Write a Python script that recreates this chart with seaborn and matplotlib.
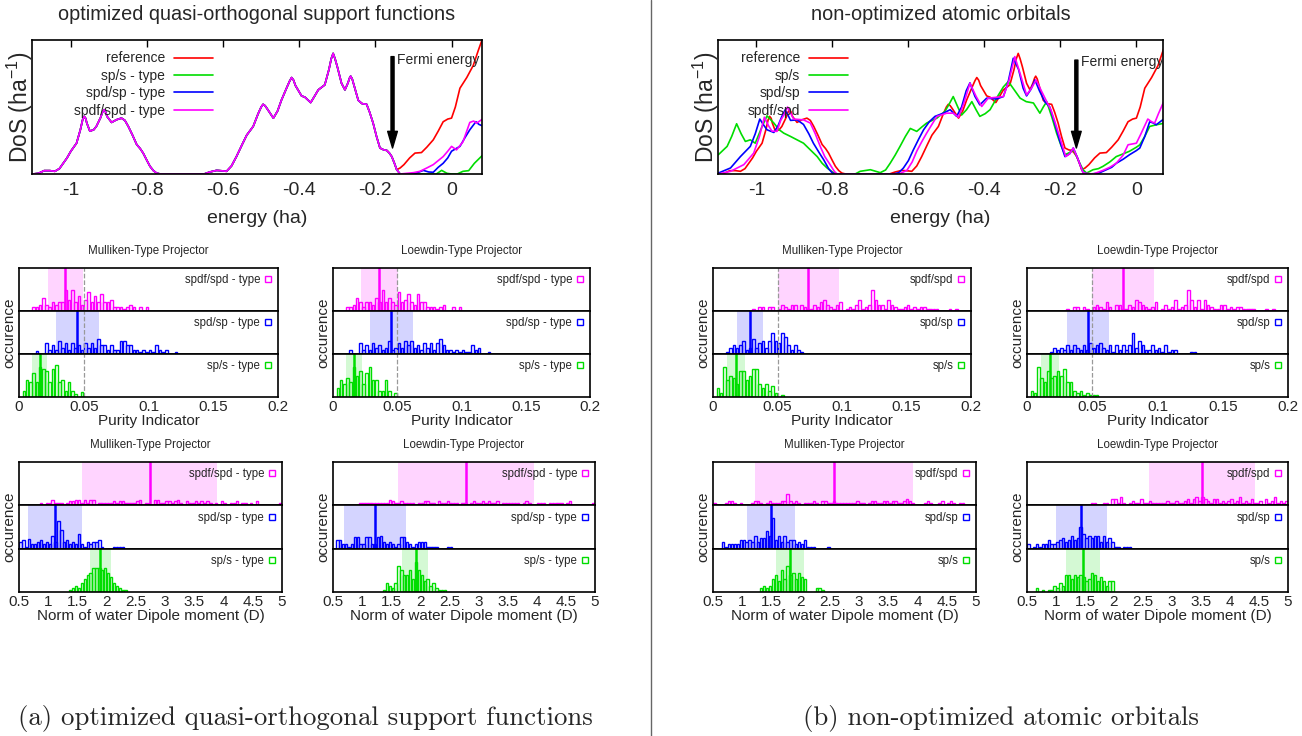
import numpy as np
import pandas as pd
import matplotlib
matplotlib.use('Agg')
import matplotlib.pyplot as plt
from matplotlib.lines import Line2D
import seaborn as sns

sns.set_style('white')
plt.rcParams['font.family'] = ['Liberation Sans', 'DejaVu Sans']
plt.rcParams['axes.unicode_minus'] = False
plt.rcParams['mathtext.default'] = 'regular'

W, H = 1302, 736

# ---- density of states (energy in ha, DoS in arbitrary units) ----
dos_body = [(-1.10, 0.0), (-1.085, 0.5), (-1.07, 2.5), (-1.055, 2.5), (-1.042, 2.0), (-1.03, 4.0),
            (-1.02, 8.0), (-1.01, 12.0), (-1.0, 17.0), (-0.985, 23.0), (-0.975, 33.0), (-0.969, 40.5),
            (-0.965, 43.0), (-0.961, 41.5), (-0.958, 38.0), (-0.95, 32.0), (-0.94, 33.0), (-0.933, 35.5),
            (-0.922, 42.0), (-0.917, 46.0), (-0.913, 48.0), (-0.909, 46.5), (-0.905, 43.0), (-0.893, 38.5),
            (-0.88, 40.5), (-0.867, 41.7), (-0.858, 40.0), (-0.849, 35.5),
            (-0.838, 29.0), (-0.827, 22.0), (-0.818, 19.0), (-0.81, 15.6), (-0.8, 10.0), (-0.792, 5.7),
            (-0.783, 2.5), (-0.775, 0.7), (-0.765, 0.0), (-0.65, 0.0), (-0.635, 1.5), (-0.617, 2.7),
            (-0.6, 2.3), (-0.591, 2.0), (-0.578, 6.0), (-0.565, 13.0), (-0.55, 22.0), (-0.538, 29.0),
            (-0.521, 35.5), (-0.508, 45.0), (-0.5, 50.0), (-0.495, 52.0), (-0.49, 51.0), (-0.485, 49.0),
            (-0.468, 41.7), (-0.457, 47.0), (-0.447, 55.0), (-0.432, 65.0), (-0.425, 69.5), (-0.42, 72.0),
            (-0.415, 70.0), (-0.41, 66.0), (-0.394, 58.3), (-0.385, 57.3),
            (-0.37, 53.3), (-0.36, 58.0), (-0.35, 62.8), (-0.333, 66.5), (-0.322, 78.0), (-0.316, 86.0),
            (-0.311, 90.0), (-0.306, 86.0), (-0.3, 80.0), (-0.289, 67.7), (-0.28, 62.8), (-0.272, 68.0),
            (-0.268, 71.5), (-0.265, 73.0), (-0.261, 71.0), (-0.255, 65.0),
            (-0.245, 55.0), (-0.235, 52.5), (-0.223, 52.0), (-0.215, 46.0), (-0.206, 38.0), (-0.197, 28.0),
            (-0.188, 19.4), (-0.178, 18.0), (-0.17, 17.6), (-0.163, 15.5), (-0.157, 13.0), (-0.15, 8.0),
            (-0.144, 3.2)]
tail_ref = [(-0.135, 4.5), (-0.125, 7.0), (-0.11, 12.0), (-0.096, 15.6), (-0.079, 16.0), (-0.065, 20.0),
            (-0.048, 25.5), (-0.035, 32.0), (-0.022, 39.0), (-0.01, 41.0), (0.0, 41.7), (0.01, 50.0),
            (0.022, 64.0), (0.04, 72.0), (0.057, 81.0), (0.07, 92.0), (0.085, 104.0)]
tail_a_sp = [(-0.135, 0.0), (-0.04, 0.0), (-0.026, 2.7), (-0.012, 0.5), (0.0, 0.0), (0.015, 0.0),
             (0.03, 2.0), (0.045, 2.5), (0.06, 8.0), (0.085, 15.0)]
tail_a_spd = [(-0.135, 0.0), (-0.1, 0.0), (-0.085, 1.5), (-0.074, 2.7), (-0.06, 1.5), (-0.048, 1.3),
              (-0.035, 5.0), (-0.022, 8.0), (-0.01, 12.0), (0.0, 17.0), (0.012, 19.0), (0.022, 20.6),
              (0.035, 27.0), (0.048, 33.0), (0.064, 39.0), (0.072, 37.0), (0.085, 35.5)]
tail_a_spdf = [(-0.135, 0.0), (-0.118, 0.5), (-0.1, 1.0), (-0.083, 2.0), (-0.065, 4.5), (-0.048, 7.0),
               (-0.035, 10.0), (-0.022, 13.0), (-0.01, 17.0), (0.0, 20.6), (0.013, 18.0), (0.03, 24.0),
               (0.048, 38.5), (0.058, 39.5), (0.066, 38.0), (0.085, 41.7)]

dos_b_sp = [(-1.10, 14.4), (-1.077, 20.6), (-1.065, 28.0), (-1.052, 37.5), (-1.04, 30.0), (-1.029, 24.3),
            (-1.016, 25.5), (-1.003, 23.0), (-0.985, 35.5), (-0.972, 43.4), (-0.954, 38.0), (-0.94, 33.0),
            (-0.928, 30.5), (-0.91, 28.0), (-0.893, 25.5), (-0.876, 23.0), (-0.858, 18.0), (-0.84, 13.0),
            (-0.827, 8.0), (-0.814, 4.5), (-0.8, 1.5), (-0.788, 0.0), (-0.74, 0.0), (-0.727, 2.0),
            (-0.70, 3.2), (-0.674, 1.0), (-0.66, 3.0), (-0.648, 8.0), (-0.635, 14.0), (-0.622, 20.6),
            (-0.608, 28.0), (-0.595, 34.0), (-0.578, 31.8), (-0.565, 35.0), (-0.552, 38.0), (-0.525, 41.7),
            (-0.504, 46.7), (-0.493, 52.0), (-0.482, 57.8), (-0.47, 50.0), (-0.46, 44.0), (-0.447, 48.0),
            (-0.433, 54.0), (-0.422, 48.0), (-0.412, 43.0), (-0.398, 45.0), (-0.385, 48.0), (-0.363, 59.0),
            (-0.35, 65.0), (-0.337, 69.0), (-0.322, 63.0), (-0.306, 56.6), (-0.29, 54.0), (-0.271, 53.0),
            (-0.254, 45.4), (-0.245, 50.0), (-0.236, 54.0), (-0.222, 42.0), (-0.21, 30.5), (-0.198, 21.0),
            (-0.188, 14.4), (-0.176, 16.0), (-0.166, 18.0), (-0.157, 13.0), (-0.149, 8.0), (-0.14, 3.0),
            (-0.131, 0.7), (-0.114, 3.2), (-0.1, 4.0), (-0.088, 5.7), (-0.07, 9.0), (-0.053, 13.0),
            (-0.035, 15.0), (-0.018, 17.0), (0.0, 20.0), (0.009, 21.8), (0.022, 28.0), (0.035, 35.5),
            (0.052, 36.7), (0.075, 38.0)]
dos_b_spd = [(-1.10, 0.7), (-1.068, 4.5), (-1.042, 13.0), (-1.016, 20.6), (-1.003, 30.0), (-0.991, 41.0),
             (-0.982, 37.0), (-0.972, 33.0), (-0.954, 31.0), (-0.943, 36.0), (-0.933, 43.0), (-0.924, 48.0),
             (-0.91, 40.0), (-0.893, 40.4), (-0.876, 37.0), (-0.862, 30.0), (-0.85, 23.0), (-0.835, 16.0),
             (-0.823, 10.7), (-0.81, 4.0), (-0.8, 0.7), (-0.79, 0.0), (-0.64, 0.0), (-0.625, 1.0),
             (-0.613, 4.5), (-0.6, 10.0), (-0.587, 18.0), (-0.573, 26.0), (-0.56, 33.0), (-0.545, 39.0),
             (-0.53, 43.0), (-0.508, 45.4), (-0.49, 48.0), (-0.473, 43.0), (-0.46, 50.0), (-0.448, 62.0),
             (-0.438, 68.0), (-0.425, 58.0), (-0.412, 51.6), (-0.394, 56.6), (-0.368, 56.0), (-0.35, 57.8),
             (-0.338, 68.0), (-0.324, 86.4), (-0.31, 78.0), (-0.298, 64.0), (-0.289, 58.3), (-0.278, 63.0),
             (-0.267, 70.2), (-0.255, 62.0), (-0.241, 54.0), (-0.228, 50.0), (-0.215, 38.0), (-0.202, 25.0),
             (-0.188, 13.0), (-0.176, 15.0), (-0.166, 19.4), (-0.155, 12.0), (-0.14, 0.7), (-0.123, 0.0),
             (-0.1, 0.5), (-0.079, 3.2), (-0.065, 5.0), (-0.053, 8.0), (-0.035, 11.0), (-0.018, 14.4),
             (0.0, 17.5), (0.009, 19.4), (0.022, 28.0), (0.035, 39.0), (0.045, 38.0), (0.052, 36.7),
             (0.075, 41.7)]
dos_b_spdf = [(-1.10, 0.0), (-1.068, 2.0), (-1.033, 7.0), (-1.007, 15.6), (-0.992, 28.0), (-0.979, 42.4),
              (-0.968, 36.0), (-0.959, 32.0), (-0.946, 31.8), (-0.936, 40.0), (-0.928, 44.0), (-0.918, 50.0),
              (-0.902, 41.0), (-0.876, 40.4), (-0.858, 38.0), (-0.845, 30.0), (-0.832, 20.6), (-0.82, 13.0),
              (-0.806, 7.0), (-0.795, 2.0), (-0.788, 0.0), (-0.625, 0.0), (-0.604, 2.7), (-0.59, 9.0),
              (-0.578, 17.0), (-0.565, 24.0), (-0.552, 30.5), (-0.538, 37.0), (-0.525, 43.0), (-0.499, 45.4),
              (-0.482, 45.4), (-0.468, 42.4), (-0.455, 52.0), (-0.438, 67.7), (-0.422, 58.0), (-0.407, 50.4),
              (-0.39, 56.6), (-0.35, 57.8), (-0.335, 70.0), (-0.32, 87.6), (-0.305, 74.0), (-0.289, 59.0),
              (-0.276, 64.0), (-0.264, 70.2), (-0.25, 62.0), (-0.236, 54.0), (-0.225, 48.0), (-0.215, 39.5),
              (-0.2, 26.0), (-0.186, 13.0), (-0.176, 15.0), (-0.166, 19.4), (-0.155, 12.0), (-0.14, 0.7),
              (-0.114, 0.0), (-0.088, 2.7), (-0.07, 5.0), (-0.053, 8.0), (-0.035, 14.0), (-0.022, 21.8),
              (0.0, 23.0), (0.012, 30.0), (0.03, 41.0), (0.04, 39.0), (0.048, 38.0), (0.058, 45.0),
              (0.075, 56.0)]

dos_ticks = [-1.0, -0.8, -0.6, -0.4, -0.2, 0.0]
dos_ticklabels = ['-1', '-0.8', '-0.6', '-0.4', '-0.2', '0']
labels_a = ['reference', 'sp/s - type', 'spd/sp - type', 'spdf/spd - type']
labels_b = ['reference', 'sp/s', 'spd/sp', 'spdf/spd']
dos_colors = ['#ff0000', '#00dd00', '#0000ff', '#ff00ff']

# ---- histograms: order spdf/spd, spd/sp, sp/s (top to bottom) ----
hist_colors = ['#ff00ff', '#0000ff', '#00dd00']
pur_bin = 0.0025
dip_bin = 0.05
pur_ticks = [0, 0.05, 0.1, 0.15, 0.2]
pur_ticklabels = ['0', '0.05', '0.1', '0.15', '0.2']
dip_ticks = [0.5, 1, 1.5, 2, 2.5, 3, 3.5, 4, 4.5, 5]
dip_ticklabels = ['0.5', '1', '1.5', '2', '2.5', '3', '3.5', '4', '4.5', '5']

# (a) Mulliken, purity
a_mull_pur_start = [0.010, 0.0125, 0.0025]
a_mull_pur_spdf = [1, 1, 1.5, 3, 1.5, 1, 2, 1.5, 2, 2, 5, 2.5, 5, 2, 3.5, 1.5, 2.5, 4.5, 2, 3.5,
                   2, 4, 2, 2, 2.5, 1, 1, 1, 0.5, 1, 1.5, 1, 0, 1, 0, 1]
a_mull_pur_spd = [0.8, 0, 0, 2.5, 1, 2, 1, 3, 1.5, 2.5, 1, 2.5, 1.5, 2, 1, 2.5, 1.5, 2.5, 1.5, 3.5,
                  2, 2, 1, 2, 1, 1, 3, 3, 2, 2, 1, 1, 0.5, 1, 0.5, 1, 0.5, 2, 1, 0.5, 1, 0, 0, 0.5]
a_mull_pur_sp = [1.5, 4, 3.5, 5.5, 3.5, 7, 6.5, 6, 3.5, 6.5, 7.5, 3.5, 4, 1.5, 3.5, 1.5, 0.8, 0, 1.2]
a_mull_pur_mean = [0.0359, 0.0449, 0.016]
a_mull_pur_lo = [0.0225, 0.0284, 0.0098]
a_mull_pur_hi = [0.0495, 0.0617, 0.0219]

# (a) Loewdin, purity
a_loew_pur_start = [0.010, 0.0125, 0.0025]
a_loew_pur_spdf = [1, 1, 1.5, 3, 2, 1, 2, 2, 1.5, 3, 2, 5, 2, 3, 2, 1.5, 4.5, 2, 2.5, 4,
                   2, 1.5, 4, 2, 2, 1, 1, 1, 0.5, 1, 1.5, 0, 0, 1, 0, 1]
a_loew_pur_spd = [1, 0, 0, 2.5, 1, 2, 1, 2.5, 1.5, 2, 1, 1.5, 3, 1, 1.5, 2.5, 1.5, 3, 2, 3,
                  1.5, 2, 1, 2.5, 1.5, 2.5, 1, 2.5, 3.5, 2, 1, 1, 0.5, 1, 0.5, 1, 0.5, 0.5, 2, 1, 1.5, 0, 0, 0.5]
a_loew_pur_sp = [2, 4, 3, 4.5, 3.5, 7, 5, 6, 3, 5.5, 7, 4, 4, 1.5, 1.5, 4, 1.5, 0, 1]
a_loew_pur_mean = [0.036, 0.0453, 0.016]
a_loew_pur_lo = [0.022, 0.029, 0.0104]
a_loew_pur_hi = [0.0503, 0.0622, 0.0225]

# (a) Mulliken, dipole
a_mull_dip_start = [0.85, 0.5, 1.35]
a_mull_dip_spdf = [0.5, 0, 0.5, 0.5, 1.3, 0.5, 0.5, 0.5, 0, 0.5, 1, 1, 1.3, 1.3, 0.5, 1.3, 0.5, 1.3, 1.3, 0,
                   0.5, 0.5, 0.5, 0.5, 0.5, 1, 0.5, 1, 1, 0.5, 0.5, 0.5, 0.5, 1, 1.3, 0, 0.5, 0.5, 0, 1.3,
                   1.3, 0.5, 0.5, 1, 1, 0.5, 1, 1.3, 0.5, 0, 1, 0.5, 0.5, 1, 0.5, 1, 0.5, 1, 0.5, 0,
                   0.5, 0, 1, 0.5, 0, 0.5, 0.5, 1, 0, 0.5, 0.5, 0, 0.5, 0, 1, 0, 0, 0, 0, 0, 0, 0, 0.5]
a_mull_dip_spd = [1.5, 2, 0.5, 2.3, 1, 1, 1.5, 2, 1, 1.5, 1, 3, 1.5, 6.5, 4.2, 1.5, 2, 1, 1.5, 1,
                  3.5, 1, 0.5, 1.5, 1, 1.5, 1.5, 2, 0.5, 0, 0, 0, 0.5, 0.5, 0.5, 0.5]
a_mull_dip_sp = [0.5, 1, 1.5, 1, 2, 3, 4, 4.5, 5.5, 5.5, 5.5, 5, 5.5, 4.5, 3.5, 2, 1.5, 1, 0.5, 0.5]
a_mull_dip_mean = [2.74, 1.11, 1.89]
a_mull_dip_lo = [1.58, 0.65, 1.71]
a_mull_dip_hi = [3.88, 1.57, 2.07]

# (a) Loewdin, dipole
a_loew_dip_start = [0.95, 0.55, 1.35]
a_loew_dip_spdf = [0.5, 0.5, 0.5, 0.5, 0.5, 0.5, 0.5, 0.5, 0.5, 0.5, 1.3, 1, 0.5, 0.5, 1, 0.5, 0.5, 0.5, 0.5, 0,
                   0.5, 0.5, 1, 1, 0.5, 0.5, 0, 1, 0.5, 0.5, 1, 0.5, 0.5, 0.5, 0, 0.5, 0.5, 0, 0.5, 1,
                   0.5, 0.5, 1, 0.5, 1, 0.5, 0.5, 1, 0, 0.5, 0.5, 0.5, 0.5, 0.5, 0.5, 0, 0.5, 1, 0.5, 0,
                   0, 0.5, 0.5, 0.5, 0, 0.5, 0.5, 0.5, 0.5, 0.5, 0, 0.5, 1, 0, 0, 0, 0, 0, 0, 0, 0.5]
a_loew_dip_spd = [2, 2, 1, 1, 0.5, 1, 2.8, 2.8, 1, 1, 2.8, 2.8, 1, 1, 2.8, 3, 1.5, 1, 1.5, 1,
                  0.5, 1, 2.8, 2.8, 1.5, 1, 0.5, 1, 1.5, 1.5, 1.5, 0.5, 0.5, 0.5, 0.5, 0, 0, 0, 0.5, 0.5]
a_loew_dip_sp = [0.5, 2, 1.5, 1, 2, 6, 5, 4, 4, 5, 3, 7, 5, 4, 2.5, 3, 1.5, 2, 1, 0.5, 0.5, 0.5]
a_loew_dip_mean = [2.78, 1.226, 1.92]
a_loew_dip_lo = [1.61, 0.69, 1.69]
a_loew_dip_hi = [3.95, 1.75, 2.13]

# (b) Mulliken, purity
b_mull_pur_start = [0.030, 0.010, 0.0025]
b_mull_pur_spdf = [0.5, 0, 1, 1, 0, 1, 1, 0, 0.5, 1.5, 1, 0.5, 1.5, 1.5, 0, 1.5, 1, 0.5, 0.5, 1.5,
                   1, 2, 2.5, 1.5, 1, 0.5, 1.5, 2, 0, 0.5, 1, 0.5, 1.5, 2.5, 0.5, 1, 1.5, 5, 2.5, 1.5,
                   1.5, 0.5, 2.5, 1.5, 1, 0.5, 0.5, 1, 1.5, 0.5, 1, 0.5, 1, 1, 0.5, 0.5, 0.5, 0.5, 0, 0,
                   0, 0.5, 0, 0.5]
b_mull_pur_spd = [0.5, 1.5, 2, 1.5, 2, 3, 1, 1.5, 3.5, 1.5, 2.5, 3, 1.5, 3, 5, 3, 2.5, 5, 4, 2,
                  1, 2, 1, 0.5]
b_mull_pur_sp = [2, 1, 7, 4, 5, 4.5, 3, 6, 6, 4, 5, 6.5, 6.5, 3, 2, 3, 1.5, 2.5, 1, 0, 0.5]
b_mull_pur_mean = [0.0738, 0.0284, 0.0175]
b_mull_pur_lo = [0.050, 0.0186, 0.0108]
b_mull_pur_hi = [0.0978, 0.0387, 0.0245]

# (b) Loewdin, purity
b_loew_pur_start = [0.030, 0.0175, 0.0025]
b_loew_pur_spdf = [0.5, 0, 1, 1, 0, 1, 0.5, 0, 1, 1.5, 1, 0.5, 2, 1, 0, 1.5, 1.5, 0.5, 0.5, 1.5,
                   1, 2.5, 2, 1.5, 1, 0.5, 1, 2, 0, 0.5, 1.5, 0.5, 1, 2.5, 0.5, 1, 1.5, 5, 2.5, 1,
                   2.5, 0.5, 2.5, 1.5, 1, 0.5, 0.5, 1.5, 1.5, 0.5, 1, 0.5, 1, 1, 0.5, 0.5, 0.5, 0.5, 0, 0,
                   0, 0.5, 0, 0.5]
b_loew_pur_spd = [0.5, 1.5, 1, 1.5, 1, 2, 1, 2, 1.5, 1, 2, 1, 2.5, 1.5, 2, 2.5, 1.5, 1, 2, 0.5,
                  2, 1, 2, 1, 2, 5, 1.5, 3, 2, 1, 1, 2, 1, 1.5, 0.5, 2, 0.5, 1, 1, 0, 0, 0, 0, 0.5, 0.5]
b_loew_pur_sp = [1.5, 1, 7, 4.5, 3.5, 6, 4.5, 5, 6, 5, 6.5, 3.5, 3.5, 1.5, 1, 1.5, 0.5, 1, 0.5, 0.5, 0.5]
b_loew_pur_mean = [0.0735, 0.0467, 0.018]
b_loew_pur_lo = [0.0498, 0.031, 0.011]
b_loew_pur_hi = [0.0975, 0.0627, 0.0245]

# (b) Mulliken, dipole
b_mull_dip_start = [0.5, 0.65, 1.3]
b_mull_dip_spdf = [0.5, 0, 0, 0, 0.5, 1, 1, 0.5, 0, 0.5, 0, 0, 0, 0.5, 1, 1, 0.5, 0, 0.5, 1,
                   0.5, 0.5, 0.5, 1, 1, 2.5, 1, 0.5, 1, 0.5, 0, 0.5, 0.5, 0.5, 1, 0.5, 0, 1, 1, 0.5,
                   0.5, 1, 0.5, 0.5, 0.5, 0.5, 0.5, 0.5, 0.5, 1, 0.5, 0.5, 0, 0.5, 1, 1, 0.5, 0.5, 1, 1,
                   0.5, 1, 1, 0.5, 0.5, 1, 1.5, 1, 0.5, 0, 0, 0, 0.5, 1, 0.5, 0, 0, 0.5, 1, 0,
                   0.5, 1, 0.5, 0, 0.5, 0.5]
b_mull_dip_spd = [1.5, 0.5, 1, 1, 1, 1, 2, 2, 1.5, 2, 1.5, 3, 1.5, 2.5, 2.5, 4, 3, 7, 2, 3,
                  1.5, 3, 1.5, 2, 2, 1, 1.5, 1, 2, 0.5, 0.5, 0.5, 0, 0, 0, 0, 0.5]
b_mull_dip_sp = [1, 1.5, 1, 1.5, 3, 4, 2.5, 5, 3, 6, 4, 4.5, 3, 4.5, 3.5, 3, 0, 0, 0, 1, 1, 0.5]
b_mull_dip_mean = [2.57, 1.49, 1.82]
b_mull_dip_lo = [1.22, 1.09, 1.58]
b_mull_dip_hi = [3.92, 1.907, 2.06]

# (b) Loewdin, dipole
b_loew_dip_start = [1.6, 0.5, 0.65]
b_loew_dip_spdf = [0.5, 0.5, 0, 0, 0.5, 0.5, 0, 1.5, 1.5, 0.5, 2, 0.5, 0, 0.5, 1, 0.5, 0.5, 1.5, 0.5, 0.5,
                   1, 0.5, 0.5, 0.5, 0.5, 0.5, 1, 0.5, 0.5, 1, 0.5, 0.5, 1, 1.5, 0.5, 1.5, 2, 1, 2, 1.5,
                   1, 0.5, 1.5, 1.5, 0.5, 1, 0.5, 1, 1.5, 0.5, 1, 2, 0.5, 1, 0.5, 1.5, 0.5, 0.5, 1, 0,
                   1.5, 0.5, 1, 2, 0.5, 1, 0.5, 1]
b_loew_dip_spd = [1, 0, 0.5, 1, 0.5, 1, 1, 2, 1, 1, 1.5, 2, 2.5, 1.5, 2, 3, 2, 2.5, 5, 3.5,
                  2.5, 3, 2.5, 3, 3, 1.5, 3, 1.5, 2.5, 1.5, 0.5, 0.5, 0, 0.5, 0.5, 0.5]
b_loew_dip_sp = [1, 0, 0.5, 0, 0.5, 0.5, 1.5, 1, 2, 1.5, 4, 4, 3, 4, 3.5, 4, 3.5, 2.5, 3, 4.5,
                 4, 2.5, 3.5, 2.5, 1.5, 2.5, 2.5]
b_loew_dip_mean = [3.51, 1.435, 1.46]
b_loew_dip_lo = [2.60, 1.005, 1.18]
b_loew_dip_hi = [4.43, 1.876, 1.76]


def px_box(x0, y0, x1, y1):
    return [x0 / W, 1 - y1 / H, (x1 - x0) / W, (y1 - y0) / H]


fig = plt.figure(figsize=(W / 100, H / 100), dpi=100)


def dos_panel(box, curves, labels, xlim, leg_x, arrow_x, arrow_top, text_x, text_y, title):
    ax = fig.add_axes(px_box(*box))
    for pts, col in zip(curves, dos_colors):
        e, d = zip(*pts)
        sns.lineplot(x=list(e), y=list(d), ax=ax, color=col, linewidth=1.2,
                     estimator=None, sort=False)
    ax.set_xlim(xlim)
    ax.set_ylim(0, 100)
    ax.set_yticks([])
    ax.set_xticks(dos_ticks)
    ax.set_xticklabels(dos_ticklabels)
    ax.tick_params(axis='x', direction='in', top=True, length=5, width=1,
                   labelsize=14, pad=6, color='black')
    for s in ax.spines.values():
        s.set_color('black')
        s.set_linewidth(1.2)
    ax.set_xlabel('energy (ha)', fontsize=14, labelpad=8)
    ax.legend(ax.lines[:4], labels, loc='upper right', bbox_to_anchor=(leg_x, 0.915),
              frameon=False, markerfirst=False, fontsize=10, handlelength=2.8,
              handletextpad=0.65, labelspacing=0.25, borderpad=0, borderaxespad=0)
    ax.annotate('', xy=(arrow_x, 19.4), xytext=(arrow_x, arrow_top),
                arrowprops=dict(facecolor='black', edgecolor='black', width=2.2,
                                headwidth=7, headlength=12, shrink=0))
    ax.text(text_x, text_y, 'Fermi energy', fontsize=10, ha='left', va='center')
    x0, y0, x1, y1 = box
    fig.text((x0 + x1) / 2 / W, 1 - 15 / H, title, fontsize=14.3, ha='center', va='center')
    fig.text((x0 - 12) / W, 1 - (y0 + y1) / 2 / H, 'DoS (ha$^{-1}$)', fontsize=16.5,
             rotation=90, ha='center', va='center')


def hist_panel(box, title, xlim, ticks, ticklabels, xlabel, width, starts, series,
               means, los, his, labels, dashed):
    x0, y0, x1, y1 = box
    h = (y1 - y0) / 3
    for k in range(3):
        ax = fig.add_axes(px_box(x0, y0 + k * h, x1, y0 + (k + 1) * h))
        col = hist_colors[k]
        counts = np.asarray(series[k], dtype=float)
        edges = starts[k] + width * np.arange(len(counts) + 1)
        df = pd.DataFrame({'value': edges[:-1] + width / 2, 'count': counts})
        ax.axvspan(los[k], his[k], color=col, alpha=0.17, lw=0)
        sns.histplot(data=df, x='value', weights='count', bins=[float(b) for b in edges],
                     ax=ax, fill=False, shrink=0.8, color=col, linewidth=1.0)
        ax.axvline(means[k], color=col, lw=1.8)
        if dashed:
            ax.axvline(0.05, color='#999999', ls='--', lw=0.9)
        ax.set_xlim(xlim)
        ax.set_ylim(0, 10)
        ax.set_yticks([])
        ax.set_ylabel('')
        ax.set_xlabel('')
        ax.set_xticks(ticks)
        for s in ax.spines.values():
            s.set_color('black')
            s.set_linewidth(1.2)
        handle = Line2D([], [], marker='s', ls='none', mfc='none', mec=col, ms=5, mew=1)
        ax.legend([handle], [labels[k]], loc='upper right', frameon=False, markerfirst=False,
                  fontsize=8.3, handlelength=0.6, handletextpad=0.4, borderpad=0,
                  borderaxespad=0.55)
        if k < 2:
            ax.set_xticklabels([])
            ax.tick_params(axis='x', length=0)
        else:
            ax.set_xticklabels(ticklabels)
            ax.tick_params(axis='x', length=0, labelsize=11, pad=2)
            ax.set_xlabel(xlabel, fontsize=11, labelpad=0)
    fig.text((x0 + x1) / 2 / W, 1 - (y0 - 17) / H, title, fontsize=8.3,
             ha='center', va='center')
    fig.text((x0 - 10) / W, 1 - (y0 + y1) / 2 / H, 'occurence', fontsize=11,
             rotation=90, ha='center', va='center')


ref_curve = dos_body + tail_ref
dos_panel((32, 40, 482, 174),
          [ref_curve, dos_body + tail_a_sp, dos_body + tail_a_spd, dos_body + tail_a_spdf],
          labels_a, (-1.102, 0.080), 0.402, -0.155, 87.6, -0.1445, 85,
          'optimized quasi-orthogonal support functions')
dos_panel((718, 40, 1163, 174),
          [ref_curve, dos_b_sp, dos_b_spd, dos_b_spdf],
          labels_b, (-1.101, 0.070), 0.292, -0.158, 85.0, -0.146, 83.6,
          'non-optimized atomic orbitals')

lab_a = ['spdf/spd - type', 'spd/sp - type', 'sp/s - type']
lab_b = ['spdf/spd', 'spd/sp', 'sp/s']
mull = 'Mulliken-Type Projector'
loew = 'Loewdin-Type Projector'
pur = 'Purity Indicator'
dip = 'Norm of water Dipole moment (D)'

hist_panel((19, 268, 278, 397), mull, (0, 0.2), pur_ticks, pur_ticklabels, pur, pur_bin,
           a_mull_pur_start, [a_mull_pur_spdf, a_mull_pur_spd, a_mull_pur_sp],
           a_mull_pur_mean, a_mull_pur_lo, a_mull_pur_hi, lab_a, True)
hist_panel((333, 268, 590, 397), loew, (0, 0.2), pur_ticks, pur_ticklabels, pur, pur_bin,
           a_loew_pur_start, [a_loew_pur_spdf, a_loew_pur_spd, a_loew_pur_sp],
           a_loew_pur_mean, a_loew_pur_lo, a_loew_pur_hi, lab_a, True)
hist_panel((19, 462, 282, 592), mull, (0.5, 5), dip_ticks, dip_ticklabels, dip, dip_bin,
           a_mull_dip_start, [a_mull_dip_spdf, a_mull_dip_spd, a_mull_dip_sp],
           a_mull_dip_mean, a_mull_dip_lo, a_mull_dip_hi, lab_a, False)
hist_panel((333, 462, 595, 592), loew, (0.5, 5), dip_ticks, dip_ticklabels, dip, dip_bin,
           a_loew_dip_start, [a_loew_dip_spdf, a_loew_dip_spd, a_loew_dip_sp],
           a_loew_dip_mean, a_loew_dip_lo, a_loew_dip_hi, lab_a, False)
hist_panel((713, 268, 971, 397), mull, (0, 0.2), pur_ticks, pur_ticklabels, pur, pur_bin,
           b_mull_pur_start, [b_mull_pur_spdf, b_mull_pur_spd, b_mull_pur_sp],
           b_mull_pur_mean, b_mull_pur_lo, b_mull_pur_hi, lab_b, True)
hist_panel((1027, 268, 1288, 397), loew, (0, 0.2), pur_ticks, pur_ticklabels, pur, pur_bin,
           b_loew_pur_start, [b_loew_pur_spdf, b_loew_pur_spd, b_loew_pur_sp],
           b_loew_pur_mean, b_loew_pur_lo, b_loew_pur_hi, lab_b, True)
hist_panel((713, 462, 976, 592), mull, (0.5, 5), dip_ticks, dip_ticklabels, dip, dip_bin,
           b_mull_dip_start, [b_mull_dip_spdf, b_mull_dip_spd, b_mull_dip_sp],
           b_mull_dip_mean, b_mull_dip_lo, b_mull_dip_hi, lab_b, False)
hist_panel((1027, 462, 1288, 592), loew, (0.5, 5), dip_ticks, dip_ticklabels, dip, dip_bin,
           b_loew_dip_start, [b_loew_dip_spdf, b_loew_dip_spd, b_loew_dip_sp],
           b_loew_dip_mean, b_loew_dip_lo, b_loew_dip_hi, lab_b, False)

# divider and sub-captions
fig.add_artist(Line2D([651 / W, 651 / W], [0, 1], color='#666666', lw=1,
                      transform=fig.transFigure))
fig.text(305 / W, 1 - 719 / H, '(a) optimized quasi-orthogonal support functions',
         fontfamily='cmr10', fontsize=19.3, ha='center', va='center')
fig.text(1001 / W, 1 - 719 / H, '(b) non-optimized atomic orbitals',
         fontfamily='cmr10', fontsize=19.3, ha='center', va='center')

fig.savefig('out.png', dpi=100)
